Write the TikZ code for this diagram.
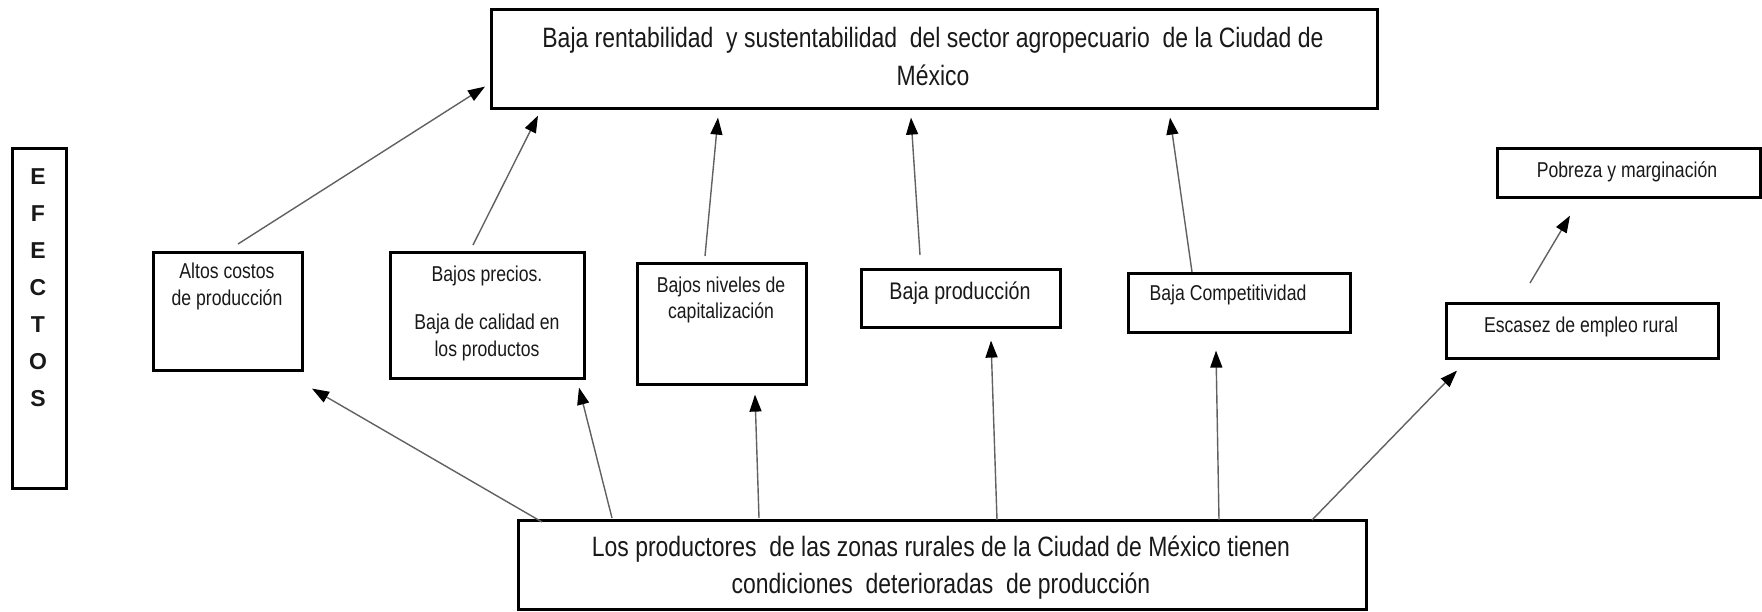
\documentclass[tikz,border=0pt]{standalone}
\usepackage{fontspec}
\setmainfont{Liberation Sans}[FakeStretch=0.82]
\newfontfamily\widefont{Liberation Sans}
\usetikzlibrary{arrows.meta,calc}
\begin{document}
\begin{tikzpicture}[x=1pt,y=-1pt,
  box/.style={draw=black,line width=2.6pt,anchor=north west,inner sep=0pt,fill=none},
  txt/.style={inner sep=0pt,align=center,text=black!90},
  arr/.style={draw=black!62,line width=1.4pt,-{Triangle[length=17pt,width=12pt,color=black,fill=black]}},
  bigtxt/.style={txt,font=\fontsize{28}{38}\selectfont},
  smalltxt/.style={txt,font=\fontsize{21.5}{27}\selectfont}]
\useasboundingbox (0,0) rectangle (1762,611);
\fill[white] (0,0) rectangle (1762,611);

% boxes
\node[box,minimum width=886pt,minimum height=99pt] (top) at (490,8) {};
\node[box,minimum width=54pt,minimum height=340pt] (efec) at (11,147) {};
\node[box,minimum width=149pt,minimum height=118pt] (altos) at (152,251) {};
\node[box,minimum width=194pt,minimum height=126pt] (precios) at (389,251) {};
\node[box,minimum width=169pt,minimum height=121pt] (niveles) at (636,262) {};
\node[box,minimum width=199pt,minimum height=58pt] (prod) at (860,268) {};
\node[box,minimum width=222pt,minimum height=59pt] (comp) at (1127,272) {};
\node[box,minimum width=263pt,minimum height=49pt] (pob) at (1496,147) {};
\node[box,minimum width=272pt,minimum height=55pt] (esc) at (1445,302) {};
\node[box,minimum width=848pt,minimum height=89pt] (bot) at (517,519) {};

% texts
\node[bigtxt] (toptxt) at (933,56) {Baja rentabilidad\ \ y sustentabilidad\ \ del sector agropecuario\ \ de la Ciudad de\\México};
\node[bigtxt,font=\fontsize{28}{37}\selectfont] (bottxt) at (941,568) {Los productores\ \ de las zonas rurales de la Ciudad de México tienen\\condiciones\ \ deterioradas\ \ de producción};
\node[smalltxt] (altostxt) at (227,286) {Altos costos\\de producción};
\node[smalltxt] (preciostxt) at (487,313) {Bajos precios.\\[21pt]Baja de calidad en\\los productos};
\node[smalltxt,font=\fontsize{21.5}{26}\selectfont] (nivelestxt) at (721,300) {Bajos niveles de\\capitalización};
\node[txt,font=\fontsize{24}{28}\selectfont] (prodtxt) at (960,293) {Baja producción};
\node[smalltxt] (comptxt) at (1228,295) {Baja Competitividad};
\node[smalltxt] (pobtxt) at (1627,172) {Pobreza y marginación};
\node[smalltxt] (esctxt) at (1581,327) {Escasez de empleo rural};
\foreach \l [count=\i from 0] in {E,F,E,C,T,O,S}{
  \node[txt,font=\widefont\bfseries\fontsize{23}{23}\selectfont] (efl\i) at (38,177+37*\i) {\l};
}

% connectors to the top effect
\draw[arr] ($(altos.north west)+(86,-7)$) -- ($(top.south west)+(-5,-23)$);
\draw[arr] ($(precios.north west)+(84,-6)$) -- ($(top.south west)+(48,6)$);
\draw[arr] ($(niveles.north west)+(69,-6)$) -- ($(top.south west)+(228,8)$);
\draw[arr] ($(prod.north west)+(60,-13)$) -- ($(top.south west)+(421,8)$);
\draw[arr] ($(comp.north west)+(65,0)$) -- ($(top.south west)+(680,8)$);
\draw[arr] ($(esc.north west)+(85,-19)$) -- ($(pob.south west)+(74,17)$);

% connectors from the bottom problem
\draw[arr] ($(bot.north west)+(25,3)$) -- ($(altos.south west)+(160,17)$);
\draw[arr] ($(bot.north west)+(95,-1)$) -- ($(precios.south west)+(190,8)$);
\draw[arr] ($(bot.north west)+(242,-1)$) -- ($(niveles.south west)+(119,9)$);
\draw[arr] ($(bot.north west)+(480,1)$) -- ($(prod.south west)+(131,12)$);
\draw[arr] ($(bot.north west)+(702,1)$) -- ($(comp.south west)+(89,17)$);
\draw[arr] ($(bot.north west)+(795,1)$) -- ($(esc.south west)+(12,11)$);
\end{tikzpicture}
\end{document}
